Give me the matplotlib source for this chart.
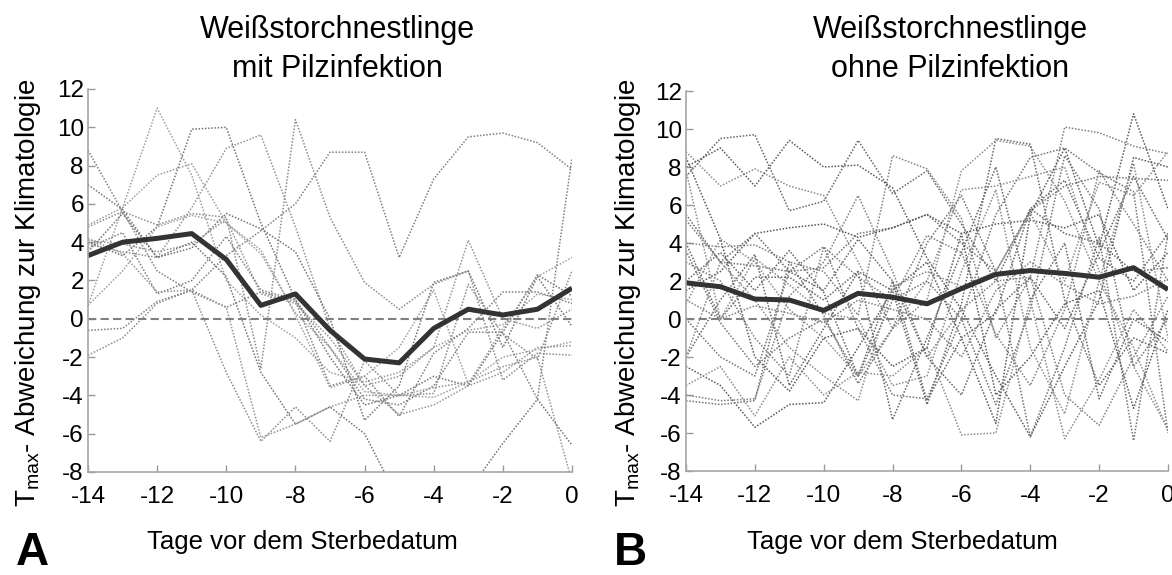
import numpy as np
import matplotlib
matplotlib.use("Agg")
import matplotlib.pyplot as plt

plt.rcParams['font.family'] = ['Liberation Sans', 'DejaVu Sans']
plt.rcParams['mathtext.fontset'] = 'custom'
plt.rcParams['mathtext.rm'] = 'Liberation Sans'
plt.rcParams['axes.unicode_minus'] = False

# days before death
days = np.arange(-14, 1)

# mean curves (thick lines)
mean_a = [3.3, 4.0, 4.2, 4.45, 3.1, 0.7, 1.3, -0.6, -2.1, -2.3, -0.5, 0.5, 0.2, 0.5, 1.6]
mean_b = [1.9, 1.7, 1.05, 1.0, 0.45, 1.35, 1.15, 0.8, 1.6, 2.35, 2.55, 2.4, 2.2, 2.7, 1.55]

# individual nestlings, panel A (with fungal infection)
nest_a = [
    [-0.6, -0.5, 0.9, 1.5, 3.3, 4.6, 6.0, 8.7, 8.7, 3.2, 7.3, 9.5, 9.7, 9.2, 7.8],
    [0.7, 5.8, 11.0, 7.5, 2.0, 0.2, -1.0, -2.8, -3.3, -2.8, -1.5, -0.6, -0.3, 1.3, 1.0],
    [4.0, 3.3, 4.8, 9.9, 10.0, 5.0, 1.0, -2.0, -4.5, -4.0, -3.0, -3.5, -0.7, 2.3, 1.2],
    [3.9, 3.5, 3.2, 5.8, 8.9, 9.6, 4.8, -0.5, -3.5, -5.0, -4.5, -3.5, -2.8, -1.5, -1.4],
    [4.8, 5.6, 4.9, 5.5, 5.3, -2.6, 10.4, 5.3, 1.9, 0.5, 1.8, 2.5, -3.2, -1.8, -1.9],
    [8.8, 5.6, 2.5, 1.4, 0.6, 1.4, 0.9, -3.5, -3.0, -5.1, -1.8, -0.5, 1.4, 1.4, 0.8],
    [4.9, 5.8, 7.5, 8.1, 5.0, 3.4, 0.3, -1.5, -3.8, -4.0, -4.1, -3.3, -2.0, -1.6, -1.2],
    [7.0, 5.7, 3.2, 3.7, 5.5, 4.7, 3.5, 0.0, -5.3, -3.5, 1.9, 2.5, -1.5, 2.2, -0.4],
    [4.1, 3.9, 3.5, 3.9, 5.2, 1.3, 0.8, -1.0, -3.5, -3.0, -1.5, 4.1, 0.0, -0.5, 0.5],
    [-1.9, -1.0, 0.8, 1.5, -2.8, -6.4, -4.6, -6.4, -2.2, -4.0, -3.9, 1.8, -0.8, -2.1, 2.5],
    [3.7, 4.5, 1.3, 2.0, 4.3, 1.5, 1.0, -1.5, -4.2, -4.5, -3.5, -0.7, -0.7, -4.2, 8.4],
    [0.7, 2.5, 4.8, 5.4, 5.0, 3.6, 0.2, -3.6, -3.0, -1.5, 1.5, -3.4, -0.5, 2.2, 3.2],
    [3.5, 5.5, 3.2, 4.0, 2.2, -2.8, -5.5, -4.6, -6.0, -9.5, -12.0, -9.0, -6.5, -4.2, -6.6],
    [4.2, 3.4, 1.4, 1.5, 0.6, -6.2, -5.5, -4.6, -4.0, -4.0, -3.6, -3.3, -2.5, -2.0, -8.5],
]

# individual nestlings, panel B (without fungal infection)
nest_b = [
    [7.5, 9.5, 9.7, 5.7, 6.2, 9.4, 6.6, 7.8, 5.0, 2.0, 5.8, 7.3, 3.2, 2.0, 4.5],
    [8.8, 7.0, 7.9, 7.0, 6.5, 3.0, -0.5, 1.0, 7.8, 9.4, 9.1, 6.2, 2.0, -1.5, -5.9],
    [8.0, 9.0, 7.0, 9.4, 8.0, 8.1, 6.9, 3.2, 0.5, -3.0, -6.2, -2.5, 1.0, 8.5, 8.0],
    [4.0, 3.8, 3.9, 3.0, 2.5, 0.2, 8.6, 7.9, 5.3, -1.0, 2.2, 10.1, 9.8, 9.1, 8.7],
    [5.2, 3.0, 2.8, 2.5, 2.7, 4.5, 4.8, 5.5, 4.0, 2.5, 5.7, 7.0, 7.5, 7.4, 7.3],
    [-2.0, 1.0, 3.4, -3.5, -0.5, 2.5, 1.5, -4.5, 0.8, 9.5, 9.2, 1.0, -3.5, -1.0, -1.8],
    [0.8, 4.2, 3.0, 0.5, -1.0, -3.0, -0.5, 2.0, 6.8, 7.0, 7.5, 8.0, 2.5, -2.5, -5.8],
    [-2.5, -3.5, -5.7, -4.5, -4.4, -1.5, 1.5, 3.0, -1.0, -5.5, 5.5, 9.0, 3.8, 10.8, 5.8],
    [-4.0, -4.3, -4.2, 1.2, 3.0, 6.5, 2.5, -2.0, 0.5, 2.0, 2.2, -4.0, -5.6, -2.0, 1.2],
    [-4.3, -4.5, -4.3, 3.0, 0.2, -3.4, -0.5, 4.0, 6.5, 2.5, -6.2, -1.5, 4.3, -6.4, 4.5],
    [2.0, 3.5, 1.5, 3.6, 1.4, -3.0, 2.0, -4.3, -1.0, 0.3, 5.8, 4.5, 4.0, 2.5, 2.7],
    [-3.5, -2.5, -5.1, -2.0, -4.0, -2.8, -3.0, -1.5, -6.1, -6.0, 1.0, -6.3, -3.2, 0.5, -1.7],
    [1.5, 2.5, 4.5, 4.8, 5.0, 4.3, 4.8, 5.5, 4.5, 5.0, 5.2, 4.8, 5.5, 1.5, 3.5],
    [3.0, 2.0, -1.0, -3.0, 3.8, 2.2, 1.0, 4.4, 3.5, -0.8, -3.5, 0.5, 7.8, 5.0, 2.0],
    [0.0, -2.0, -3.0, 2.5, 3.8, -0.5, -4.0, -4.2, 0.0, 5.5, 8.5, 9.0, 7.7, 6.7, -6.0],
    [4.0, 0.0, 2.2, 2.2, 1.0, 2.5, -5.3, -1.0, 3.5, 8.0, 1.0, 4.0, -4.2, 0.0, -1.2],
    [-2.0, 3.0, 1.0, -1.5, -3.0, -4.3, 1.7, 2.5, 1.7, 2.5, 5.6, 2.0, 7.2, 6.5, 8.8],
    [8.5, 4.2, -2.0, -3.8, -1.0, -0.5, -2.5, -1.5, 4.5, -4.0, -2.0, 0.8, 1.5, -4.7, 0.5],
    [1.0, 0.0, 0.7, 0.3, -0.2, 1.0, 0.5, 0.0, -2.0, 1.5, 3.0, 1.8, 0.8, 1.2, 2.1],
    [3.6, -0.2, -2.5, -1.0, 0.0, -3.0, 1.0, 2.0, 0.0, -4.5, 0.5, 8.6, 5.8, -2.5, 0.0],
    [5.5, 3.0, 4.5, 2.5, 1.5, 4.2, 2.0, -2.0, -4.0, 0.5, 2.2, -0.5, 3.5, 7.5, 4.2],
    [7.8, 0.0, 3.2, 1.8, 0.3, 0.0, -3.5, -3.0, 2.5, 6.8, -1.5, -5.0, 2.0, 8.2, -1.0],
]

titles = ["Weißstorchnestlinge\nmit Pilzinfektion",
          "Weißstorchnestlinge\nohne Pilzinfektion"]
panel_letters = ["A", "B"]
xticks = [-14, -12, -10, -8, -6, -4, -2, 0]
yticks = [-8, -6, -4, -2, 0, 2, 4, 6, 8, 10, 12]

W, H = 1172, 575
fig = plt.figure(figsize=(W / 100, H / 100), dpi=100)

# axes boxes in pixels: left, right, top, bottom
boxes = [(88, 572, 89, 472), (686, 1168, 91, 471)]
title_x = [337, 950]
xlabel_x = [302, 902]
ylabel_x = [28, 628]
letter_x = [16, 614]

greys_a = ['0.5', '0.62', '0.45', '0.58', '0.55']
greys_b = ['0.4', '0.55', '0.35', '0.5', '0.45']

for i, (nest, mean) in enumerate([(nest_a, mean_a), (nest_b, mean_b)]):
    greys = greys_a if i == 0 else greys_b
    l, r, t, b = boxes[i]
    ax = fig.add_axes([l / W, 1 - b / H, (r - l) / W, (b - t) / H])
    for k, row in enumerate(nest):
        ax.plot(days, row, color=greys[k % len(greys)], lw=1.1,
                ls=(0, (1, 1.1)))
    ax.axhline(0, color='0.5', lw=1.5, ls=(0, (4, 2)))
    ax.plot(days, mean, color='0.2', lw=3.6, solid_joinstyle='round',
            solid_capstyle='butt')
    ax.set_xlim(-14, 0)
    ax.set_ylim(-8, 12)
    ax.set_xticks(xticks)
    ax.set_yticks(yticks)
    for s in ['top', 'right']:
        ax.spines[s].set_visible(False)
    for s in ['left', 'bottom']:
        ax.spines[s].set_color('0.65')
        ax.spines[s].set_linewidth(1.2)
    ax.tick_params(direction='in', length=5, width=1, color='0.6',
                   labelsize=17.5, labelcolor='black')
    ax.tick_params(axis='x', pad=10)
    ax.tick_params(axis='y', pad=3)

    lines = titles[i].split("\n")
    fig.text(title_x[i] / W, 1 - 38 / H, lines[0], ha='center',
             va='baseline', fontsize=22)
    fig.text(title_x[i] / W, 1 - 77 / H, lines[1], ha='center',
             va='baseline', fontsize=22)
    fig.text(xlabel_x[i] / W, 1 - 549 / H, "Tage vor dem Sterbedatum",
             ha='center', va='baseline', fontsize=18.5)
    fig.text(ylabel_x[i] / W, 1 - 293 / H,
             r"T$_{\mathrm{max}}$- Abweichung zur Klimatologie",
             rotation=90, ha='center', va='center', fontsize=20)
    fig.text(letter_x[i] / W, 1 - 565 / H, panel_letters[i],
             ha='left', va='baseline', fontsize=33, fontweight='bold')

fig.savefig("out.png", dpi=100)
